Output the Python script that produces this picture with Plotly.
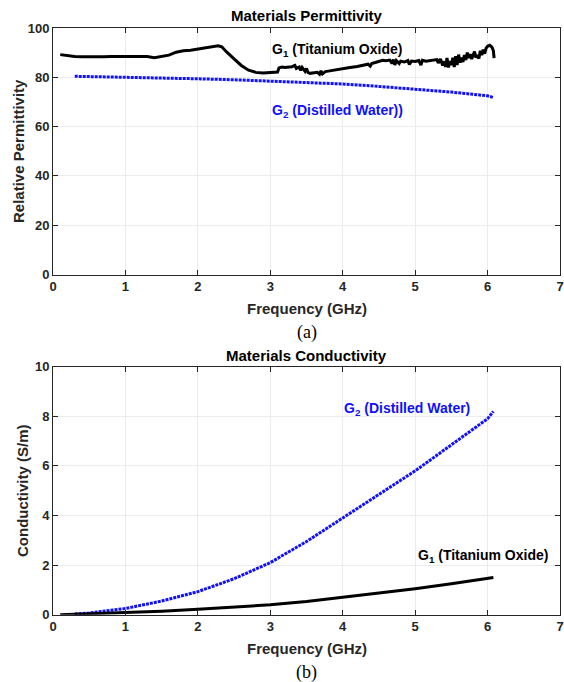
import plotly.graph_objects as go

# ---- Data: (a) permittivity ----
perm_g1_freq = [0.10, 0.15, 0.20, 0.30, 0.40, 0.50, 0.60, 0.70, 0.80, 0.90, 1.00, 1.10, 1.20, 1.30, 1.40,
                1.50, 1.60, 1.70, 1.80, 1.90, 2.00, 2.10, 2.20, 2.28, 2.33, 2.40, 2.50, 2.60, 2.70, 2.80,
                2.90, 3.00, 3.10, 3.12, 3.16, 3.20, 3.25, 3.30, 3.34, 3.36, 3.40, 3.42, 3.44, 3.46, 3.48,
                3.50, 3.52, 3.55, 3.60, 3.65, 3.68, 3.70, 3.72, 3.76, 3.80, 3.85, 3.90, 3.95, 4.00, 4.10,
                4.20, 4.30, 4.35, 4.38, 4.40, 4.45, 4.50, 4.55, 4.60, 4.65, 4.68, 4.70, 4.72, 4.74, 4.78,
                4.80, 4.85, 4.90, 4.92, 4.95, 5.00, 5.05, 5.08, 5.10, 5.15, 5.20, 5.25, 5.30, 5.32, 5.35,
                5.38, 5.40, 5.42, 5.44, 5.46, 5.48, 5.50, 5.52, 5.54, 5.56, 5.58, 5.60, 5.62, 5.64, 5.66,
                5.68, 5.70, 5.72, 5.74, 5.76, 5.78, 5.80, 5.82, 5.84, 5.86, 5.88, 5.90, 5.92, 5.94, 5.96,
                5.98, 6.00, 6.03, 6.06, 6.08, 6.09]
perm_g1 = [89.2, 89.0, 88.9, 88.4, 88.3, 88.2, 88.3, 88.3, 88.4, 88.4, 88.5, 88.3, 88.2, 88.4, 87.9,
           88.6, 89.0, 90.2, 90.8, 91.0, 91.4, 91.8, 92.2, 92.8, 92.4, 90.2, 87.5, 84.8, 82.9, 82.0,
           81.7, 81.8, 82.1, 83.8, 84.2, 84.0, 84.1, 84.3, 84.8, 83.6, 84.2, 82.8, 84.0, 83.0, 82.4,
           83.6, 82.0, 81.6, 81.9, 82.0, 81.2, 82.6, 81.4, 82.3, 82.5, 82.8, 83.0, 83.3, 83.6, 84.0,
           84.4, 85.0, 85.3, 84.5, 85.6, 86.0, 86.4, 86.9, 86.7, 87.0, 85.6, 87.2, 85.0, 86.8, 85.6,
           86.5, 86.2, 86.8, 85.2, 86.6, 86.4, 86.8, 85.0, 86.9, 86.5, 86.8, 87.0, 87.2, 85.8, 87.4,
           84.8, 86.5, 84.2, 87.8, 84.0, 86.6, 85.0, 87.9, 84.2, 88.6, 85.0, 89.2, 86.0, 88.0, 86.2,
           89.0, 87.0, 90.0, 87.8, 89.4, 87.4, 88.6, 90.4, 88.0, 89.0, 87.6, 90.8, 89.0, 91.2, 89.6,
           91.8, 92.6, 93.0, 92.2, 90.8, 87.8]

perm_g2_freq = [0.30, 0.50, 1.00, 1.50, 2.00, 2.50, 3.00, 3.50, 4.00, 4.50, 5.00, 5.50, 6.00, 6.08]
perm_g2 = [80.4, 80.3, 80.1, 79.8, 79.4, 79.0, 78.5, 78.0, 77.3, 76.3, 75.2, 74.0, 72.5, 71.8]

# ---- Data: (b) conductivity ----
cond_g2_freq = [0.30, 0.50, 1.00, 1.50, 2.00, 2.50, 3.00, 3.50, 4.00, 4.50, 5.00, 5.50, 6.00, 6.08]
cond_g2 = [0.03, 0.07, 0.25, 0.55, 0.93, 1.45, 2.10, 2.95, 3.90, 4.85, 5.80, 6.85, 7.90, 8.20]

cond_g1_freq = [0.10, 0.50, 1.00, 1.50, 2.00, 2.50, 3.00, 3.50, 4.00, 4.50, 5.00, 5.50, 6.00, 6.08]
cond_g1 = [0.00, 0.04, 0.08, 0.14, 0.22, 0.30, 0.40, 0.53, 0.70, 0.86, 1.05, 1.25, 1.47, 1.50]

x_ticks = [0, 1, 2, 3, 4, 5, 6, 7]
perm_ticks = [0, 20, 40, 60, 80, 100]
cond_ticks = [0, 2, 4, 6, 8, 10]

W, H = 564, 682
FONT = "Liberation Sans"
AX = "#262626"
BLUE = "#1010ff"

fig = go.Figure()
fig.add_trace(go.Scatter(x=perm_g1_freq, y=perm_g1, mode="lines",
                         line=dict(color="black", width=3), xaxis="x", yaxis="y"))
fig.add_trace(go.Scatter(x=perm_g2_freq, y=perm_g2, mode="lines",
                         line=dict(color=BLUE, width=3, dash="3px,1px"), xaxis="x", yaxis="y"))
fig.add_trace(go.Scatter(x=cond_g2_freq, y=cond_g2, mode="lines",
                         line=dict(color=BLUE, width=3, dash="3px,1px"), xaxis="x2", yaxis="y2"))
fig.add_trace(go.Scatter(x=cond_g1_freq, y=cond_g1, mode="lines",
                         line=dict(color="black", width=3), xaxis="x2", yaxis="y2"))


def px_x(p):
    return p / W


def px_y(p):
    return 1 - p / H


axis_common = dict(showline=True, linecolor=AX, linewidth=1, mirror="allticks",
                   ticks="inside", ticklen=5, tickcolor=AX, tickwidth=1, automargin=False,
                   showgrid=True, gridcolor="#ececec", gridwidth=1, zeroline=False,
                   tickfont=dict(family=FONT, size=13, color=AX, weight="bold"))

xdom = [px_x(53), px_x(560)]
fig.update_layout(
    width=W, height=H, margin=dict(l=0, r=0, t=0, b=0, autoexpand=False),
    paper_bgcolor="white", plot_bgcolor="white", showlegend=False,
    xaxis=dict(domain=xdom, range=[0, 7], tickvals=x_ticks, anchor="y", **axis_common),
    yaxis=dict(domain=[px_y(274.5), px_y(28)], range=[0, 100], tickvals=perm_ticks, anchor="x", **axis_common),
    xaxis2=dict(domain=xdom, range=[0, 7], tickvals=x_ticks, anchor="y2", **axis_common),
    yaxis2=dict(domain=[px_y(614.7), px_y(366.7)], range=[0, 10], tickvals=cond_ticks, anchor="x2", **axis_common),
)

bold = dict(family=FONT, size=15, color="black", weight="bold")
ax_lbl = dict(family=FONT, size=15, color=AX, weight="bold")
cx = (53 + 560) / 2
anns = [
    dict(text="Materials Permittivity", x=px_x(cx), y=px_y(16), font=bold),
    dict(text="Frequency (GHz)", x=px_x(cx), y=px_y(308), font=ax_lbl),
    dict(text="(a)", x=px_x(cx), y=px_y(332), font=dict(family="Liberation Serif", size=18, color="black")),
    dict(text="Relative Permittivity", x=px_x(18), y=px_y(151), font=ax_lbl, textangle=-90),
    dict(text="Materials Conductivity", x=px_x(cx), y=px_y(355), font=bold),
    dict(text="Frequency (GHz)", x=px_x(cx), y=px_y(648), font=ax_lbl),
    dict(text="(b)", x=px_x(cx), y=px_y(672), font=dict(family="Liberation Serif", size=18, color="black")),
    dict(text="Conductivity (S/m)", x=px_x(22), y=px_y(491), font=ax_lbl, textangle=-90),
]
for a in anns:
    fig.add_annotation(xref="paper", yref="paper", showarrow=False,
                       xanchor="center", yanchor="middle", **a)

lab = dict(family=FONT, size=14, weight="bold")
fig.add_annotation(xref="paper", yref="paper", x=px_x(270), y=px_y(50), xanchor="left", yanchor="middle",
                   text="G<sub>1</sub> (Titanium Oxide)", showarrow=False, font=dict(color="black", **lab))
fig.add_annotation(xref="paper", yref="paper", x=px_x(270), y=px_y(111), xanchor="left", yanchor="middle",
                   text="G<sub>2</sub> (Distilled Water))", showarrow=False, font=dict(color=BLUE, **lab))
fig.add_annotation(xref="paper", yref="paper", x=px_x(342), y=px_y(409), xanchor="left", yanchor="middle",
                   text="G<sub>2</sub> (Distilled Water)", showarrow=False, font=dict(color=BLUE, **lab))
fig.add_annotation(xref="paper", yref="paper", x=px_x(416), y=px_y(556), xanchor="left", yanchor="middle",
                   text="G<sub>1</sub> (Titanium Oxide)", showarrow=False, font=dict(color="black", **lab))

fig.write_html("out.html", config={"displayModeBar": False},
               post_script="document.body.style.margin='0';document.body.style.padding='0';"
                           "document.body.style.overflow='hidden';")
